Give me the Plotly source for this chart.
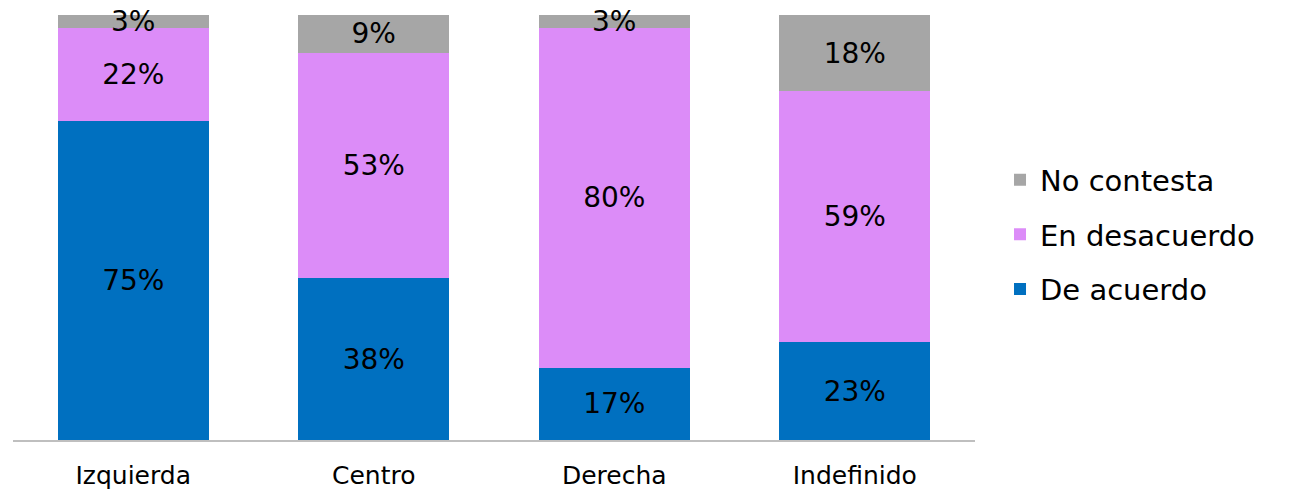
import plotly.graph_objects as go

categorias = ['Izquierda', 'Centro', 'Derecha', 'Indefinido']
de_acuerdo = [75, 38, 17, 23]
en_desacuerdo = [22, 53, 80, 59]
no_contesta = [3, 9, 3, 18]

FONT = 'DejaVu Sans'

fig = go.Figure()
series = [
    ('De acuerdo', de_acuerdo, '#0070C0', 3),
    ('En desacuerdo', en_desacuerdo, '#DC8CF8', 2),
    ('No contesta', no_contesta, '#A6A6A6', 1),
]
for name, vals, color, rank in series:
    fig.add_trace(go.Bar(
        x=categorias, y=vals, name=name, legendgroup=name, legendrank=rank,
        marker=dict(color=color, line=dict(width=0)),
        text=[str(v) + '%' for v in vals],
        textposition='inside', insidetextanchor='middle',
        constraintext='none', cliponaxis=False,
        textfont=dict(family=FONT, size=28, color='black'),
    ))

# un poco de aire sobre el 100% para que las etiquetas de 3% no se corten
fig.update_layout(
    barmode='stack', bargap=0.373,
    width=1294, height=491,
    margin=dict(l=5, r=327, t=0, b=59),
    plot_bgcolor='white', paper_bgcolor='white',
    font=dict(family=FONT, color='black'),
    showlegend=True,
    legend=dict(traceorder='grouped', x=1.026, y=0.475, yanchor='middle', xanchor='left',
                font=dict(size=29, family=FONT), itemsizing='constant',
                tracegroupgap=14),
    xaxis=dict(showline=True, linecolor='#BFBFBF', linewidth=2, ticks='',
               ticklabelstandoff=12,
               tickfont=dict(size=25, family=FONT), showgrid=False),
    yaxis=dict(range=[0, 101.6], visible=False, showgrid=False),
)

fig.write_html('out.html')
